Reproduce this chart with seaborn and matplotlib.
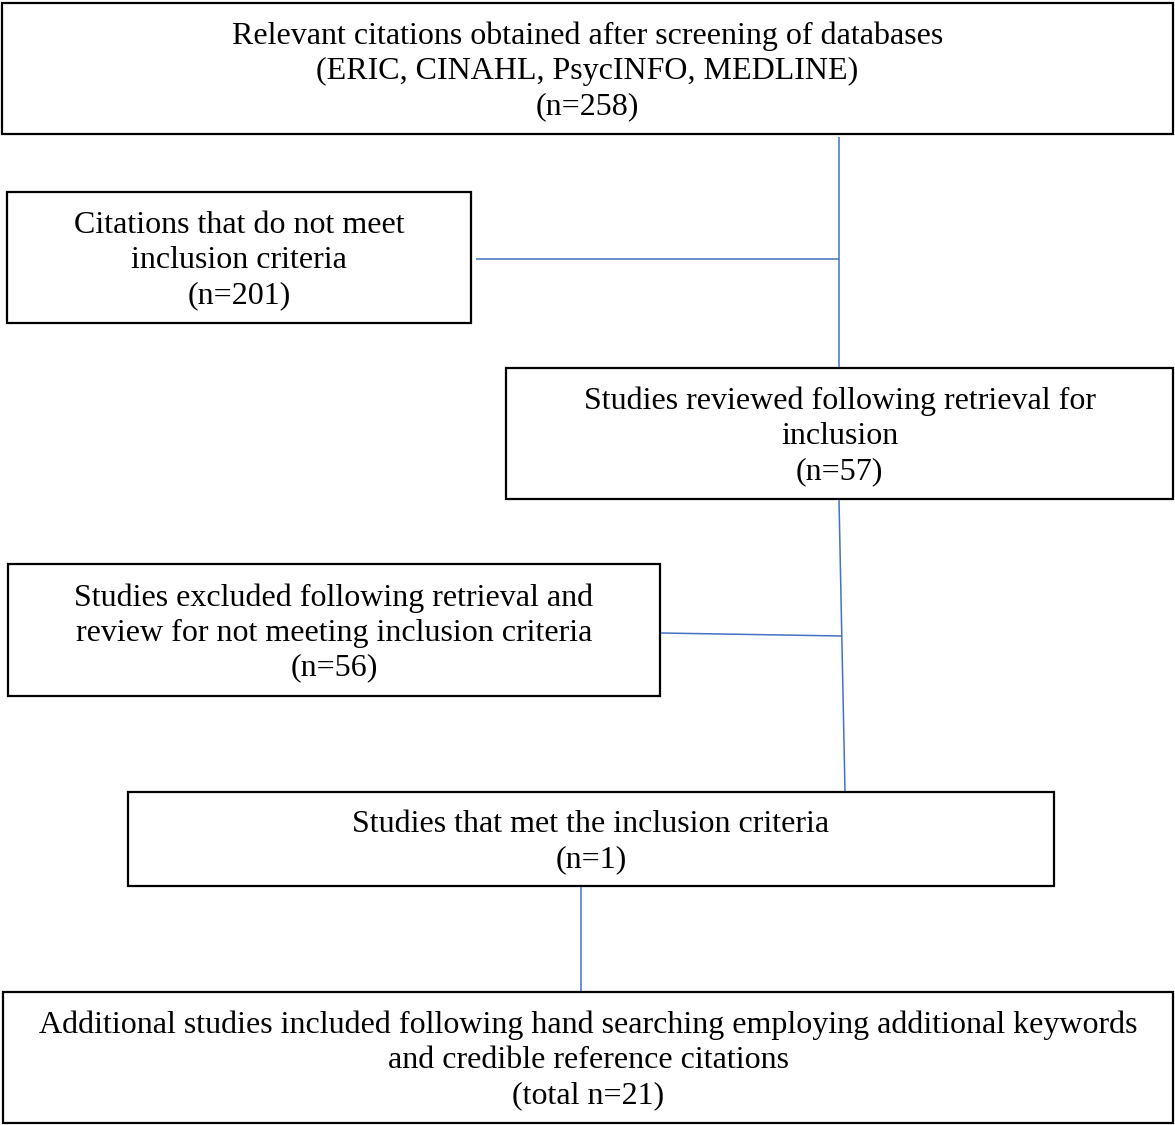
import matplotlib.pyplot as plt
import seaborn as sns
from matplotlib.patches import Rectangle

# box texts and counts
titles = [
    'Relevant citations obtained after screening of databases\n(ERIC, CINAHL, PsycINFO, MEDLINE)',
    'Citations that do not meet\ninclusion criteria',
    'Studies reviewed following retrieval for\ninclusion',
    'Studies excluded following retrieval and\nreview for not meeting inclusion criteria',
    'Studies that met the inclusion criteria',
    'Additional studies included following hand searching employing additional keywords\nand credible reference citations',
]
counts = ['n=258', 'n=201', 'n=57', 'n=56', 'n=1', 'total n=21']

# layout in pixel coords (x0, y0, x1, y1)
boxes = [
    (2, 3, 1173, 134),
    (7, 192, 471, 323),
    (506, 368, 1173, 499),
    (8, 564, 660, 696),
    (128, 792, 1054, 886),
    (3, 992, 1173, 1123),
]
# connector lines: (xs, ys)
links = [
    ([839, 839], [137, 367]),
    ([476, 839], [259, 259]),
    ([839, 845], [500, 791]),
    ([661, 842], [633, 636]),
    ([581, 581], [887, 991]),
]

sns.set_style('white')
plt.rcParams['font.family'] = ['Liberation Serif', 'DejaVu Serif']

fig = plt.figure(figsize=(11.75, 11.25), dpi=100)
ax = fig.add_axes([0, 0, 1, 1])
ax.set_xlim(0, 1175)
ax.set_ylim(1125, 0)
ax.axis('off')

for xs, ys in links:
    ax.plot(xs, ys, color='#4472C4', lw=1.1, solid_capstyle='butt')

for (x0, y0, x1, y1), t, n in zip(boxes, titles, counts):
    ax.add_patch(Rectangle((x0, y0), x1 - x0, y1 - y0, fill=False,
                           edgecolor='black', lw=1.6))
    ax.text((x0 + x1) / 2, (y0 + y1) / 2 + 3, f'{t}\n({n})', ha='center',
            va='center', fontsize=23, linespacing=1.27, color='black')

fig.savefig('out.png', dpi=100)
